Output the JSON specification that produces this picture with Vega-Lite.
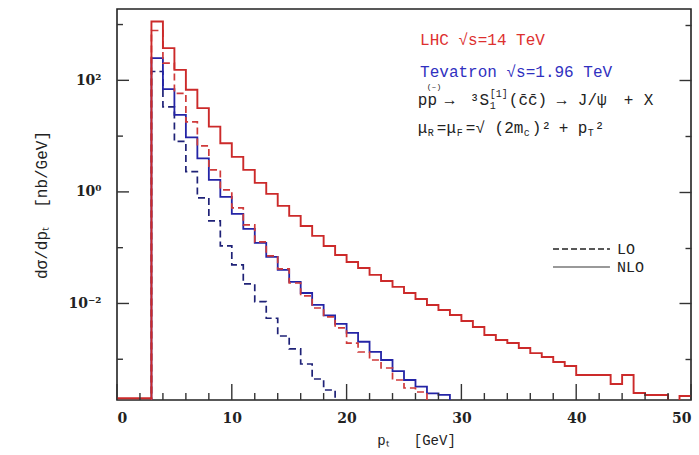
{
  "$schema": "https://vega.github.io/schema/vega-lite/v6.json",
  "width": 574,
  "height": 391,
  "autosize": "none",
  "padding": {"left": 117, "top": 9, "right": 8, "bottom": 55},
  "background": "white",
  "config": {
    "view": {"stroke": "#222", "strokeWidth": 1.6},
    "axis": {"domain": false, "grid": false, "ticks": true, "tickColor": "#333", "tickWidth": 1.4, "tickOpacity": 1, "labelFont": "DejaVu Serif", "labelFontWeight": "bold", "labelFontSize": 14, "labelColor": "#222", "titleFont": "Liberation Mono", "titleFontWeight": "normal", "titleFontSize": 15, "titleColor": "#222"},
    "text": {"font": "Liberation Mono", "align": "left", "baseline": "middle", "color": "#222"}
  },
  "datasets": {
    "h": [
      {"s":"LN","x":0,"v":0.0002},{"s":"LN","x":1,"v":0.0002},{"s":"LN","x":2,"v":0.0002},{"s":"LN","x":3,"v":1135},{"s":"LN","x":4,"v":378},{"s":"LN","x":5,"v":154},{"s":"LN","x":6,"v":67.6},{"s":"LN","x":7,"v":31.7},{"s":"LN","x":8,"v":14.8},{"s":"LN","x":9,"v":7.47},{"s":"LN","x":10,"v":4.25},{"s":"LN","x":11,"v":2.48},{"s":"LN","x":12,"v":1.45},{"s":"LN","x":13,"v":0.921},{"s":"LN","x":14,"v":0.561},{"s":"LN","x":15,"v":0.371},{"s":"LN","x":16,"v":0.245},{"s":"LN","x":17,"v":0.1625},{"s":"LN","x":18,"v":0.1075},{"s":"LN","x":19,"v":0.0741},{"s":"LN","x":20,"v":0.0555},{"s":"LN","x":21,"v":0.0433},{"s":"LN","x":22,"v":0.0325},{"s":"LN","x":23,"v":0.0253},{"s":"LN","x":24,"v":0.0198},{"s":"LN","x":25,"v":0.0154},{"s":"LN","x":26,"v":0.01205},{"s":"LN","x":27,"v":0.0094},{"s":"LN","x":28,"v":0.00764},{"s":"LN","x":29,"v":0.00622},{"s":"LN","x":30,"v":0.00485},{"s":"LN","x":31,"v":0.00379},{"s":"LN","x":32,"v":0.00272},{"s":"LN","x":33,"v":0.00221},{"s":"LN","x":34,"v":0.00195},{"s":"LN","x":35,"v":0.00159},{"s":"LN","x":36,"v":0.00129},{"s":"LN","x":37,"v":0.0011},{"s":"LN","x":38,"v":0.000893},{"s":"LN","x":39,"v":0.000757},{"s":"LN","x":40,"v":0.000521},{"s":"LN","x":41,"v":0.000521},{"s":"LN","x":42,"v":0.000521},{"s":"LN","x":43,"v":0.00036},{"s":"LN","x":44,"v":0.000521},{"s":"LN","x":45,"v":0.000248},{"s":"LN","x":46,"v":0.000229},{"s":"LN","x":47,"v":0.000229},{"s":"LN","x":48,"v":0.0001},{"s":"LN","x":49,"v":0.000219},{"s":"LN","x":50,"v":0.000219},
      {"s":"LL","x":2,"v":0.0001},{"s":"LL","x":3,"v":782},{"s":"LL","x":4,"v":204},{"s":"LL","x":5,"v":58.5},{"s":"LL","x":6,"v":18.0},{"s":"LL","x":7,"v":6.68},{"s":"LL","x":8,"v":2.48},{"s":"LL","x":9,"v":1.086},{"s":"LL","x":10,"v":0.516},{"s":"LL","x":11,"v":0.256},{"s":"LL","x":12,"v":0.127},{"s":"LL","x":13,"v":0.0711},{"s":"LL","x":14,"v":0.0416},{"s":"LL","x":15,"v":0.0233},{"s":"LL","x":16,"v":0.01364},{"s":"LL","x":17,"v":0.0083},{"s":"LL","x":18,"v":0.00573},{"s":"LL","x":19,"v":0.00364},{"s":"LL","x":20,"v":0.00195},{"s":"LL","x":21,"v":0.00135},{"s":"LL","x":22,"v":0.00097},{"s":"LL","x":23,"v":0.000697},{"s":"LL","x":24,"v":0.000425},{"s":"LL","x":25,"v":0.000305},{"s":"LL","x":26,"v":0.000259},{"s":"LL","x":27,"v":0.0001},{"s":"LL","x":28,"v":0.0001},
      {"s":"TN","x":2,"v":0.0001},{"s":"TN","x":3,"v":250},{"s":"TN","x":4,"v":69.5},{"s":"TN","x":5,"v":24.0},{"s":"TN","x":6,"v":9.5},{"s":"TN","x":7,"v":3.99},{"s":"TN","x":8,"v":1.64},{"s":"TN","x":9,"v":0.813},{"s":"TN","x":10,"v":0.403},{"s":"TN","x":11,"v":0.217},{"s":"TN","x":12,"v":0.1217},{"s":"TN","x":13,"v":0.0683},{"s":"TN","x":14,"v":0.0399},{"s":"TN","x":15,"v":0.0243},{"s":"TN","x":16,"v":0.0154},{"s":"TN","x":17,"v":0.0094},{"s":"TN","x":18,"v":0.0061},{"s":"TN","x":19,"v":0.00429},{"s":"TN","x":20,"v":0.00296},{"s":"TN","x":21,"v":0.00206},{"s":"TN","x":22,"v":0.00136},{"s":"TN","x":23,"v":0.00097},{"s":"TN","x":24,"v":0.000615},{"s":"TN","x":25,"v":0.000425},{"s":"TN","x":26,"v":0.000322},{"s":"TN","x":27,"v":0.000245},{"s":"TN","x":28,"v":0.000229},{"s":"TN","x":29,"v":0.0001},{"s":"TN","x":30,"v":0.0001},
      {"s":"TL","x":2,"v":0.0001},{"s":"TL","x":3,"v":144},{"s":"TL","x":4,"v":33.5},{"s":"TL","x":5,"v":8.05},{"s":"TL","x":6,"v":2.31},{"s":"TL","x":7,"v":0.78},{"s":"TL","x":8,"v":0.302},{"s":"TL","x":9,"v":0.1075},{"s":"TL","x":10,"v":0.049},{"s":"TL","x":11,"v":0.0224},{"s":"TL","x":12,"v":0.01077},{"s":"TL","x":13,"v":0.00543},{"s":"TL","x":14,"v":0.00261},{"s":"TL","x":15,"v":0.00153},{"s":"TL","x":16,"v":0.000822},{"s":"TL","x":17,"v":0.000443},{"s":"TL","x":18,"v":0.000281},{"s":"TL","x":19,"v":0.0001},{"s":"TL","x":20,"v":0.0001}
    ],
    "xmajor": [{"t": 0}, {"t": 10}, {"t": 20}, {"t": 30}, {"t": 40}, {"t": 50}],
    "xminor": [{"t": 2}, {"t": 4}, {"t": 6}, {"t": 8}, {"t": 12}, {"t": 14}, {"t": 16}, {"t": 18}, {"t": 22}, {"t": 24}, {"t": 26}, {"t": 28}, {"t": 32}, {"t": 34}, {"t": 36}, {"t": 38}, {"t": 42}, {"t": 44}, {"t": 46}, {"t": 48}],
    "ymajor": [{"t": 0.01}, {"t": 1}, {"t": 100}],
    "yminor": [{"t": 0.001}, {"t": 0.1}, {"t": 10}, {"t": 1000}]
  },
  "resolve": {"axis": {"x": "independent", "y": "independent"}},
  "layer": [
    {
      "data": {"name": "h"},
      "encoding": {
        "x": {"field": "x", "type": "quantitative", "scale": {"domain": [0, 50], "nice": false, "zero": false}, "axis": null},
        "y": {"field": "v", "type": "quantitative", "scale": {"type": "log", "domain": [0.000186, 1900], "nice": false}, "axis": null}
      },
      "layer": [
        {"transform": [{"filter": "datum.s == 'TL'"}], "mark": {"type": "line", "interpolate": "step-after", "clip": true, "color": "#1f2277", "strokeWidth": 1.7, "strokeDash": [7, 4]}},
        {"transform": [{"filter": "datum.s == 'TN'"}], "mark": {"type": "line", "interpolate": "step-after", "clip": true, "color": "#2424a6", "strokeWidth": 1.8}},
        {"transform": [{"filter": "datum.s == 'LL'"}], "mark": {"type": "line", "interpolate": "step-after", "clip": true, "color": "#cf3a3a", "strokeWidth": 1.7, "strokeDash": [7, 4]}},
        {"transform": [{"filter": "datum.s == 'LN'"}], "mark": {"type": "line", "interpolate": "step-after", "clip": true, "color": "#cc2a2a", "strokeWidth": 1.9}}
      ]
    },
    {
      "data": {"name": "xmajor"},
      "mark": {"type": "rule", "color": "#333", "strokeWidth": 1.4},
      "encoding": {"x": {"field": "t", "type": "quantitative", "axis": null}, "y": {"datum": 0.000186, "axis": null}, "y2": {"datum": 0.00036}}
    },
    {
      "data": {"name": "xminor"},
      "mark": {"type": "rule", "color": "#333", "strokeWidth": 1.4},
      "encoding": {"x": {"field": "t", "type": "quantitative", "axis": null}, "y": {"datum": 0.000186, "axis": null}, "y2": {"datum": 0.000248}}
    },
    {
      "data": {"name": "ymajor"},
      "mark": {"type": "rule", "color": "#333", "strokeWidth": 1.4},
      "encoding": {"y": {"field": "t", "type": "quantitative", "axis": null}, "x": {"datum": 0, "axis": null}, "x2": {"datum": 1.045}}
    },
    {
      "data": {"name": "yminor"},
      "mark": {"type": "rule", "color": "#333", "strokeWidth": 1.4},
      "encoding": {"y": {"field": "t", "type": "quantitative", "axis": null}, "x": {"datum": 0, "axis": null}, "x2": {"datum": 0.52}}
    },
    {
      "data": {"name": "h"},
      "mark": {"type": "point", "opacity": 0, "clip": true},
      "encoding": {
        "x": {"field": "x", "type": "quantitative", "axis": null},
        "y": {"field": "v", "type": "quantitative",
              "axis": {"orient": "right", "values": [0.001, 0.01, 0.1, 1, 10, 100, 1000], "ticks": true, "labels": false, "title": null,
                       "tickColor": "#333", "tickWidth": 1.4, "tickOpacity": 1,
                       "tickSize": {"condition": {"test": "datum.value == 100 || datum.value == 1 || datum.value == 0.01", "value": -12}, "value": -6}}}
      }
    },
    {
      "data": {"name": "h"},
      "mark": {"type": "point", "opacity": 0, "clip": true},
      "encoding": {
        "x": {"field": "x", "type": "quantitative",
              "axis": {"orient": "bottom", "values": [0, 10, 20, 30, 40, 50], "ticks": false,
                       "labelPadding": 11, "title": "p\u209c\u00a0\u00a0\u00a0[GeV]", "titlePadding": 8, "titleFontSize": 14, "titleX": 299}},
        "y": {"field": "v", "type": "quantitative",
              "axis": {"orient": "left", "values": [0.01, 1, 100], "ticks": false,
                       "labelExpr": "datum.value == 100 ? '10²' : datum.value == 1 ? '10⁰' : '10⁻²'",
                       "labelPadding": 16, "title": "d\u03c3/dp\u209c\u00a0\u00a0[nb/GeV]", "titlePadding": 18, "titleFontSize": 16}}
      }
    },
    {
      "data": {"values": [{"t": "LHC √s=14 TeV"}]},
      "mark": {"type": "text", "fontSize": 16, "color": "#dd3030"},
      "encoding": {"text": {"field": "t"}, "x": {"datum": 26.4, "axis": null}, "y": {"datum": 520, "axis": null}}
    },
    {
      "data": {"values": [{"t": "Tevatron √s=1.96 TeV"}]},
      "mark": {"type": "text", "fontSize": 16, "color": "#3030c0"},
      "encoding": {"text": {"field": "t"}, "x": {"datum": 26.4, "axis": null}, "y": {"datum": 142, "axis": null}}
    },
    {
      "data": {"values": [{"t": "pp"}]},
      "mark": {"type": "text", "fontSize": 16},
      "encoding": {"text": {"field": "t"}, "x": {"datum": 26.2, "axis": null}, "y": {"datum": 44.7, "axis": null}}
    },
    {
      "data": {"values": [{"t": "(–)"}]},
      "mark": {"type": "text", "fontSize": 8, "dx": 9, "dy": -13},
      "encoding": {"text": {"field": "t"}, "x": {"datum": 26.2, "axis": null}, "y": {"datum": 44.7, "axis": null}}
    },
    {
      "data": {"values": [{"t": "→"}]},
      "mark": {"type": "text", "fontSize": 16, "dx": 27},
      "encoding": {"text": {"field": "t"}, "x": {"datum": 26.2, "axis": null}, "y": {"datum": 44.7, "axis": null}}
    },
    {
      "data": {"values": [{"t": "³S"}]},
      "mark": {"type": "text", "fontSize": 16, "dx": 52},
      "encoding": {"text": {"field": "t"}, "x": {"datum": 26.2, "axis": null}, "y": {"datum": 44.7, "axis": null}}
    },
    {
      "data": {"values": [{"t": "[1]"}]},
      "mark": {"type": "text", "fontSize": 10, "dx": 72, "dy": -6},
      "encoding": {"text": {"field": "t"}, "x": {"datum": 26.2, "axis": null}, "y": {"datum": 44.7, "axis": null}}
    },
    {
      "data": {"values": [{"t": "1"}]},
      "mark": {"type": "text", "fontSize": 10, "dx": 72, "dy": 6},
      "encoding": {"text": {"field": "t"}, "x": {"datum": 26.2, "axis": null}, "y": {"datum": 44.7, "axis": null}}
    },
    {
      "data": {"values": [{"t": "(c̄c̄)"}]},
      "mark": {"type": "text", "fontSize": 16, "dx": 91},
      "encoding": {"text": {"field": "t"}, "x": {"datum": 26.2, "axis": null}, "y": {"datum": 44.7, "axis": null}}
    },
    {
      "data": {"values": [{"t": "→"}]},
      "mark": {"type": "text", "fontSize": 16, "dx": 139},
      "encoding": {"text": {"field": "t"}, "x": {"datum": 26.2, "axis": null}, "y": {"datum": 44.7, "axis": null}}
    },
    {
      "data": {"values": [{"t": "J/ψ"}]},
      "mark": {"type": "text", "fontSize": 16, "dx": 160},
      "encoding": {"text": {"field": "t"}, "x": {"datum": 26.2, "axis": null}, "y": {"datum": 44.7, "axis": null}}
    },
    {
      "data": {"values": [{"t": "+"}]},
      "mark": {"type": "text", "fontSize": 16, "dx": 206},
      "encoding": {"text": {"field": "t"}, "x": {"datum": 26.2, "axis": null}, "y": {"datum": 44.7, "axis": null}}
    },
    {
      "data": {"values": [{"t": "X"}]},
      "mark": {"type": "text", "fontSize": 16, "dx": 226},
      "encoding": {"text": {"field": "t"}, "x": {"datum": 26.2, "axis": null}, "y": {"datum": 44.7, "axis": null}}
    },
    {
      "data": {"values": [{"t": "μ"}]},
      "mark": {"type": "text", "fontSize": 16},
      "encoding": {"text": {"field": "t"}, "x": {"datum": 26.2, "axis": null}, "y": {"datum": 14.06, "axis": null}}
    },
    {
      "data": {"values": [{"t": "R"}]},
      "mark": {"type": "text", "fontSize": 10, "dx": 10, "dy": 5},
      "encoding": {"text": {"field": "t"}, "x": {"datum": 26.2, "axis": null}, "y": {"datum": 14.06, "axis": null}}
    },
    {
      "data": {"values": [{"t": "=μ"}]},
      "mark": {"type": "text", "fontSize": 16, "dx": 19},
      "encoding": {"text": {"field": "t"}, "x": {"datum": 26.2, "axis": null}, "y": {"datum": 14.06, "axis": null}}
    },
    {
      "data": {"values": [{"t": "F"}]},
      "mark": {"type": "text", "fontSize": 10, "dx": 39, "dy": 5},
      "encoding": {"text": {"field": "t"}, "x": {"datum": 26.2, "axis": null}, "y": {"datum": 14.06, "axis": null}}
    },
    {
      "data": {"values": [{"t": "=√\u00a0(2m"}]},
      "mark": {"type": "text", "fontSize": 16, "dx": 48},
      "encoding": {"text": {"field": "t"}, "x": {"datum": 26.2, "axis": null}, "y": {"datum": 14.06, "axis": null}}
    },
    {
      "data": {"values": [{"t": "c"}]},
      "mark": {"type": "text", "fontSize": 10, "dx": 106, "dy": 5},
      "encoding": {"text": {"field": "t"}, "x": {"datum": 26.2, "axis": null}, "y": {"datum": 14.06, "axis": null}}
    },
    {
      "data": {"values": [{"t": ")²"}]},
      "mark": {"type": "text", "fontSize": 16, "dx": 114},
      "encoding": {"text": {"field": "t"}, "x": {"datum": 26.2, "axis": null}, "y": {"datum": 14.06, "axis": null}}
    },
    {
      "data": {"values": [{"t": "+"}]},
      "mark": {"type": "text", "fontSize": 16, "dx": 141},
      "encoding": {"text": {"field": "t"}, "x": {"datum": 26.2, "axis": null}, "y": {"datum": 14.06, "axis": null}}
    },
    {
      "data": {"values": [{"t": "p"}]},
      "mark": {"type": "text", "fontSize": 16, "dx": 160},
      "encoding": {"text": {"field": "t"}, "x": {"datum": 26.2, "axis": null}, "y": {"datum": 14.06, "axis": null}}
    },
    {
      "data": {"values": [{"t": "T"}]},
      "mark": {"type": "text", "fontSize": 10, "dx": 170, "dy": 5},
      "encoding": {"text": {"field": "t"}, "x": {"datum": 26.2, "axis": null}, "y": {"datum": 14.06, "axis": null}}
    },
    {
      "data": {"values": [{"t": "²"}]},
      "mark": {"type": "text", "fontSize": 16, "dx": 177},
      "encoding": {"text": {"field": "t"}, "x": {"datum": 26.2, "axis": null}, "y": {"datum": 14.06, "axis": null}}
    },
    {
      "data": {"values": [{"k": "LO"}]},
      "mark": {"type": "rule", "color": "#222", "strokeWidth": 1.5, "strokeDash": [6, 3]},
      "encoding": {"x": {"datum": 37.98, "axis": null}, "x2": {"datum": 42.94}, "y": {"datum": 0.095, "axis": null}}
    },
    {
      "data": {"values": [{"k": "NLO"}]},
      "mark": {"type": "rule", "color": "#777", "strokeWidth": 1.5},
      "encoding": {"x": {"datum": 37.98, "axis": null}, "x2": {"datum": 42.94}, "y": {"datum": 0.0451, "axis": null}}
    },
    {
      "data": {"values": [{"t": "LO"}]},
      "mark": {"type": "text", "fontSize": 15},
      "encoding": {"text": {"field": "t"}, "x": {"datum": 43.55, "axis": null}, "y": {"datum": 0.095, "axis": null}}
    },
    {
      "data": {"values": [{"t": "NLO"}]},
      "mark": {"type": "text", "fontSize": 15},
      "encoding": {"text": {"field": "t"}, "x": {"datum": 43.55, "axis": null}, "y": {"datum": 0.0451, "axis": null}}
    }
  ]
}
